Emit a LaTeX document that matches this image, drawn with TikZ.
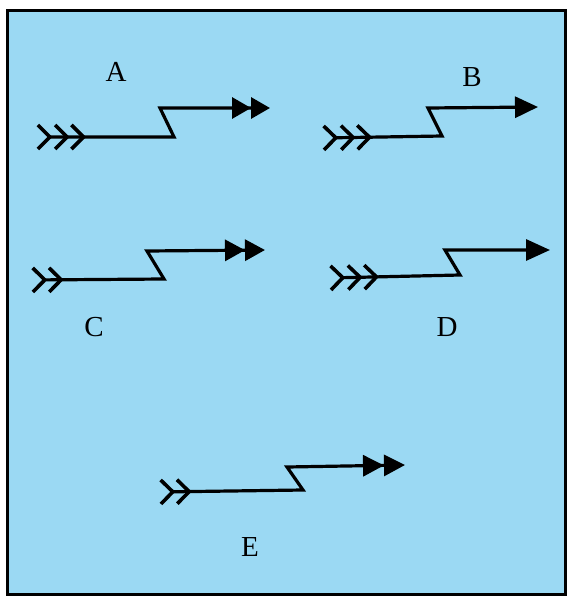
\documentclass[tikz,border=0pt]{standalone}
\usepackage{fontspec}
\setmainfont{Liberation Serif}
\usepackage{tikz}
\usepackage{xcolor}
\usetikzlibrary{arrows.meta, positioning, calc}

\definecolor{panelblue}{RGB}{155,217,243}

\tikzset{
    zline/.style={line width=3.2pt, line join=miter, black},
    tailthree/.style={zline, {Straight Barb[reversed, length=12pt, width=24pt, line width=3.6pt, sep=1pt]Straight Barb[reversed, length=12pt, width=24pt, line width=3.6pt, sep=1pt]Straight Barb[reversed, length=12pt, width=24pt, line width=3.6pt]}-{#1}},
    tailtwo/.style={zline, {Straight Barb[reversed, length=12pt, width=24pt, line width=3.6pt, sep=1pt]Straight Barb[reversed, length=12pt, width=24pt, line width=3.6pt]}-{#1}},
    letter/.style={font=\fontsize{29}{34}\selectfont, inner sep=0pt}
}

\begin{document}
\begin{tikzpicture}[x=1pt, y=-1pt]
    \useasboundingbox (0,0) rectangle (569,597);
    % =========================================================
    % PANEL
    % =========================================================
    \draw[line width=3pt, fill=panelblue] (7,10) rectangle (565,594);

    % =========================================================
    % LABELS
    % =========================================================
    \node[letter] (labA) at (116,72) {A};
    \node[letter] (labB) at (472,77) {B};
    \node[letter] (labC) at (94,327) {C};
    \node[letter] (labD) at (447,327) {D};
    \node[letter] (labE) at (250,547) {E};

    % =========================================================
    % ARROW A
    % =========================================================
    \coordinate (sA) at (35,137);
    \coordinate (kA1) at (174,137);
    \coordinate (kA2) at (160,108);
    \coordinate (eA) at (270,108);
    \draw[tailthree={Triangle[length=19pt, width=21pt]Triangle[length=19pt, width=21pt]}] (sA) -- (kA1) -- (kA2) -- (eA);

    % =========================================================
    % ARROW B
    % =========================================================
    \coordinate (sB) at (321,138);
    \coordinate (kB1) at (442,136);
    \coordinate (kB2) at (428,108);
    \coordinate (eB) at (538,107);
    \draw[tailthree={Triangle[length=23pt, width=21pt]}] (sB) -- (kB1) -- (kB2) -- (eB);

    % =========================================================
    % ARROW C
    % =========================================================
    \coordinate (sC) at (30,280);
    \coordinate (kC1) at (164,279);
    \coordinate (kC2) at (147,251);
    \coordinate (eC) at (265,250);
    \draw[tailtwo={Triangle[length=20pt, width=21pt]Triangle[length=20pt, width=21pt]}] (sC) -- (kC1) -- (kC2) -- (eC);

    % =========================================================
    % ARROW D
    % =========================================================
    \coordinate (sD) at (328,278);
    \coordinate (kD1) at (460,275);
    \coordinate (kD2) at (445,250);
    \coordinate (eD) at (550,250);
    \draw[tailthree={Triangle[length=24pt, width=21pt]}] (sD) -- (kD1) -- (kD2) -- (eD);

    % =========================================================
    % ARROW E
    % =========================================================
    \coordinate (sE) at (158,492);
    \coordinate (kE1) at (303,490);
    \coordinate (kE2) at (287,467);
    \coordinate (eE) at (405,465);
    \draw[tailtwo={Triangle[length=21pt, width=21pt]Triangle[length=21pt, width=21pt]}] (sE) -- (kE1) -- (kE2) -- (eE);
\end{tikzpicture}
\end{document}
